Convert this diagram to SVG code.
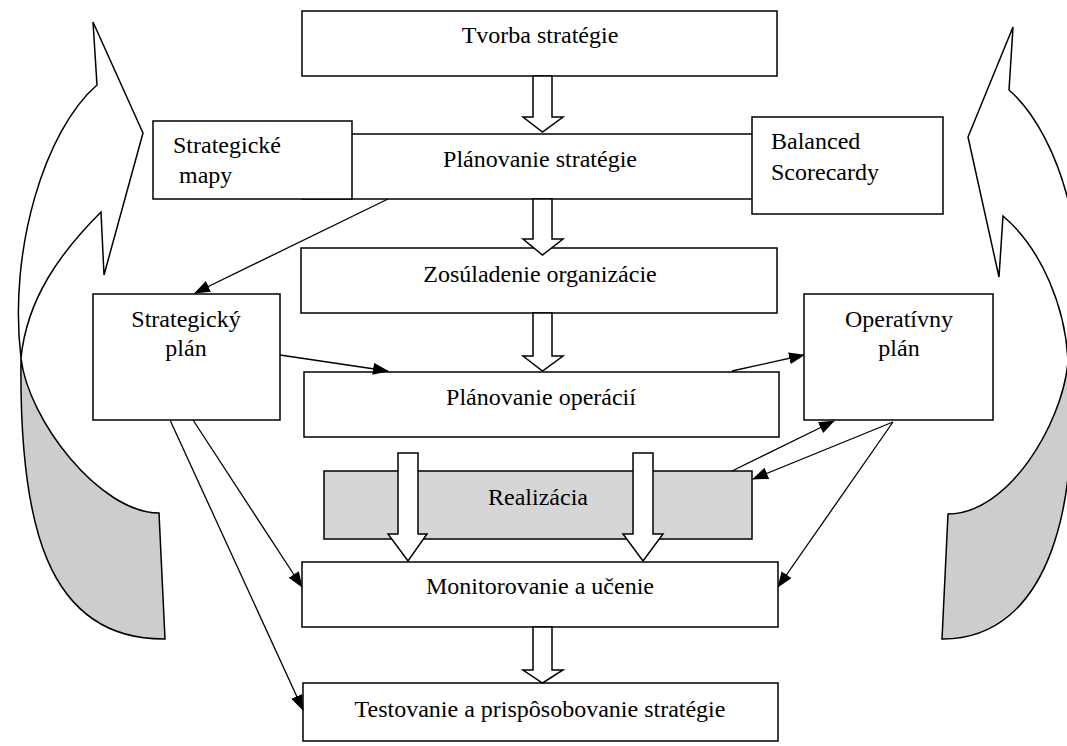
<svg xmlns="http://www.w3.org/2000/svg" width="1067" height="746" viewBox="0 0 1067 746">
<style>
  .box { fill: #ffffff; stroke: #000000; stroke-width: 1.5; }
  .gray { fill: #d6d6d6; stroke: #000000; stroke-width: 1.5; }
  .t { font-family: "Liberation Serif", "Times New Roman", serif; font-size: 24px; fill: #000000; }
  .c { text-anchor: middle; }
  .blk { fill: #ffffff; stroke: #000000; stroke-width: 1.5; stroke-linejoin: miter; }
  .ln { fill: none; stroke: #000000; stroke-width: 1.3; }
  .cw { fill: #ffffff; stroke: #000000; stroke-width: 1.5; stroke-linejoin: miter; }
  .cg { fill: #cdcdcd; stroke: #000000; stroke-width: 1.5; }
</style>
<defs>
  <marker id="ah" markerUnits="userSpaceOnUse" markerWidth="16" markerHeight="12" refX="15" refY="6" orient="auto">
    <path d="M0,0 L16,6 L0,12 Z" fill="#000000"/>
  </marker>
</defs>
<rect width="1067" height="746" fill="#ffffff"/>

<g id="cycle-left">
  <path class="cg" d="M21,358 C19,520 45,640 165,639 L159,513 C100,513 28,420 21,358 Z"/>
  <path class="cw" d="M97,85 L93,22 L143,133 L104,275 L101,212 C61,252 27,298 21,358 C8,250 45,130 97,85 Z"/>
</g>
<g id="cycle-right">
  <path class="cg" d="M1068,362 C1082,500 1050,640 942,639 L948,514 C1008,514 1062,425 1068,362 Z"/>
  <path class="cw" d="M1009,90 L1013,27 L968,137 L999,277 L1003,216 C1043,250 1066,310 1068,362 C1098,260 1061,135 1009,90 Z"/>
</g>

<g id="tvorba">
  <rect class="box" x="302" y="11" width="475" height="65"/>
  <text class="t c" x="540" y="43">Tvorba stratégie</text>
</g>
<g id="planovanie-strategie">
  <rect class="box" x="302" y="134" width="475" height="65"/>
  <text class="t c" x="540" y="167">Plánovanie stratégie</text>
</g>
<g id="strategicke-mapy">
  <rect class="box" x="153" y="121" width="199" height="78"/>
  <text class="t" x="173" y="153">Strategické</text>
  <text class="t" x="179" y="183">mapy</text>
</g>
<g id="balanced-scorecardy">
  <rect class="box" x="752" y="117" width="191" height="97"/>
  <text class="t" x="771" y="149">Balanced</text>
  <text class="t" x="771" y="180">Scorecardy</text>
</g>
<g id="zosuladenie">
  <rect class="box" x="301" y="248" width="476" height="65"/>
  <text class="t c" x="540" y="282">Zosúladenie organizácie</text>
</g>
<g id="strategicky-plan">
  <rect class="box" x="93" y="294" width="187" height="126"/>
  <text class="t c" x="186" y="327">Strategický</text>
  <text class="t c" x="186" y="356">plán</text>
</g>
<g id="operativny-plan">
  <rect class="box" x="804" y="294" width="189" height="126"/>
  <text class="t c" x="899" y="327">Operatívny</text>
  <text class="t c" x="899" y="356">plán</text>
</g>
<g id="planovanie-operacii">
  <rect class="box" x="304" y="372" width="475" height="65"/>
  <text class="t c" x="541" y="405">Plánovanie operácií</text>
</g>
<g id="realizacia">
  <rect class="gray" x="324" y="471" width="428" height="68"/>
  <text class="t c" x="538" y="505">Realizácia</text>
</g>
<g id="monitorovanie">
  <rect class="box" x="302" y="562" width="476" height="65"/>
  <text class="t c" x="540" y="594">Monitorovanie a učenie</text>
</g>
<g id="testovanie">
  <rect class="box" x="303" y="683" width="475" height="58"/>
  <text class="t c" x="540" y="717">Testovanie a prispôsobovanie stratégie</text>
</g>

<g id="connectors">
  <polygon class="blk" points="533,76 552,76 552,117 563,117 542.5,132 523,117 533,117"/>
  <polygon class="blk" points="533,199 552,199 552,239 563,239 542.5,255 523,239 533,239"/>
  <polygon class="blk" points="533,313 552,313 552,356 563,356 542.5,371 523,356 533,356"/>
  <polygon class="blk" points="398,453 418,453 418,534 427,534 408,561 388,534 398,534"/>
  <polygon class="blk" points="633,453 653,453 653,534 663,534 643,561 623,534 633,534"/>
  <polygon class="blk" points="533,627 552,627 552,670 563,670 542.5,683 523,670 533,670"/>

  <line class="ln" x1="388" y1="199" x2="195" y2="293" marker-end="url(#ah)"/>
  <line class="ln" x1="280" y1="355" x2="388" y2="371" marker-end="url(#ah)"/>
  <line class="ln" x1="732" y1="371" x2="804" y2="355" marker-end="url(#ah)"/>
  <line class="ln" x1="732" y1="471" x2="834" y2="421" marker-end="url(#ah)"/>
  <line class="ln" x1="893" y1="422" x2="753" y2="479" marker-end="url(#ah)"/>
  <line class="ln" x1="893" y1="422" x2="778" y2="587" marker-end="url(#ah)"/>
  <line class="ln" x1="193" y1="420" x2="302" y2="587" marker-end="url(#ah)"/>
  <line class="ln" x1="170" y1="420" x2="303" y2="710" marker-end="url(#ah)"/>
</g>
</svg>
